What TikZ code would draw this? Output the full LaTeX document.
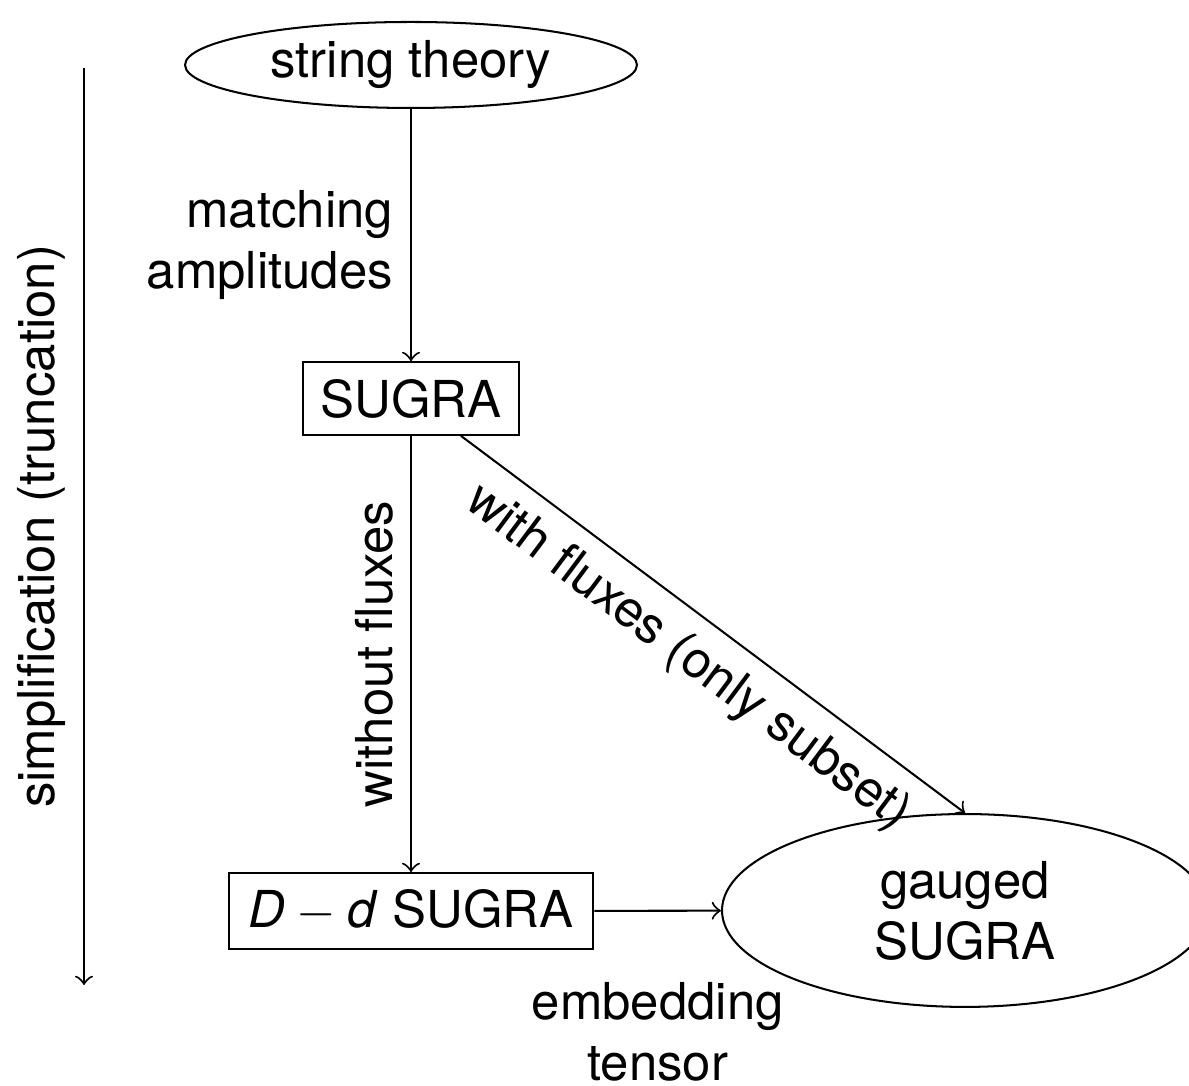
\documentclass[tikz,border=0pt]{standalone}
\usepackage{fontspec}
\setmainfont{TeX Gyre Heros}
\usetikzlibrary{shapes.geometric}
\begin{document}
\begin{tikzpicture}[x=0.1965pt,y=-0.1965pt,
  ell/.style={draw,ellipse,inner sep=0pt},
  boxnode/.style={draw,rectangle,inner sep=0pt},
  conn/.style={->}]
\useasboundingbox (0,0) rectangle (1189,1086);
\node[ell,minimum width=88.8pt,minimum height=16.9pt] (st) at (411,65) {string theory};
\node[boxnode,minimum width=42.6pt,minimum height=14.3pt] (sugra) at (411,398.5) {SUGRA};
\node[boxnode,minimum width=71.7pt,minimum height=14.9pt] (dd) at (411,911) {\textit{D}${}-{}$\textit{d} SUGRA};
\node[ell,minimum width=95.5pt,minimum height=37.9pt,align=center] (gs) at (965,910.5) {gauged\\SUGRA};
\coordinate (ta) at (84,68);
\coordinate (tb) at (84,985);
\draw[conn] (ta) -- node[midway,anchor=south,rotate=90] {simplification (truncation)} (tb);
\draw[conn] (st) -- node[midway,left,align=right,yshift=-2pt] {matching\\amplitudes} (sugra);
\draw[conn] (sugra) -- node[midway,anchor=south,rotate=90] {without fluxes} (dd);
\draw[conn] (sugra) -- node[midway,below,sloped] {with fluxes (only subset)} (gs.north);
\draw[conn] (dd) -- node[midway,below=10.6pt,align=center] {embedding\\tensor} (gs);
\end{tikzpicture}
\end{document}
